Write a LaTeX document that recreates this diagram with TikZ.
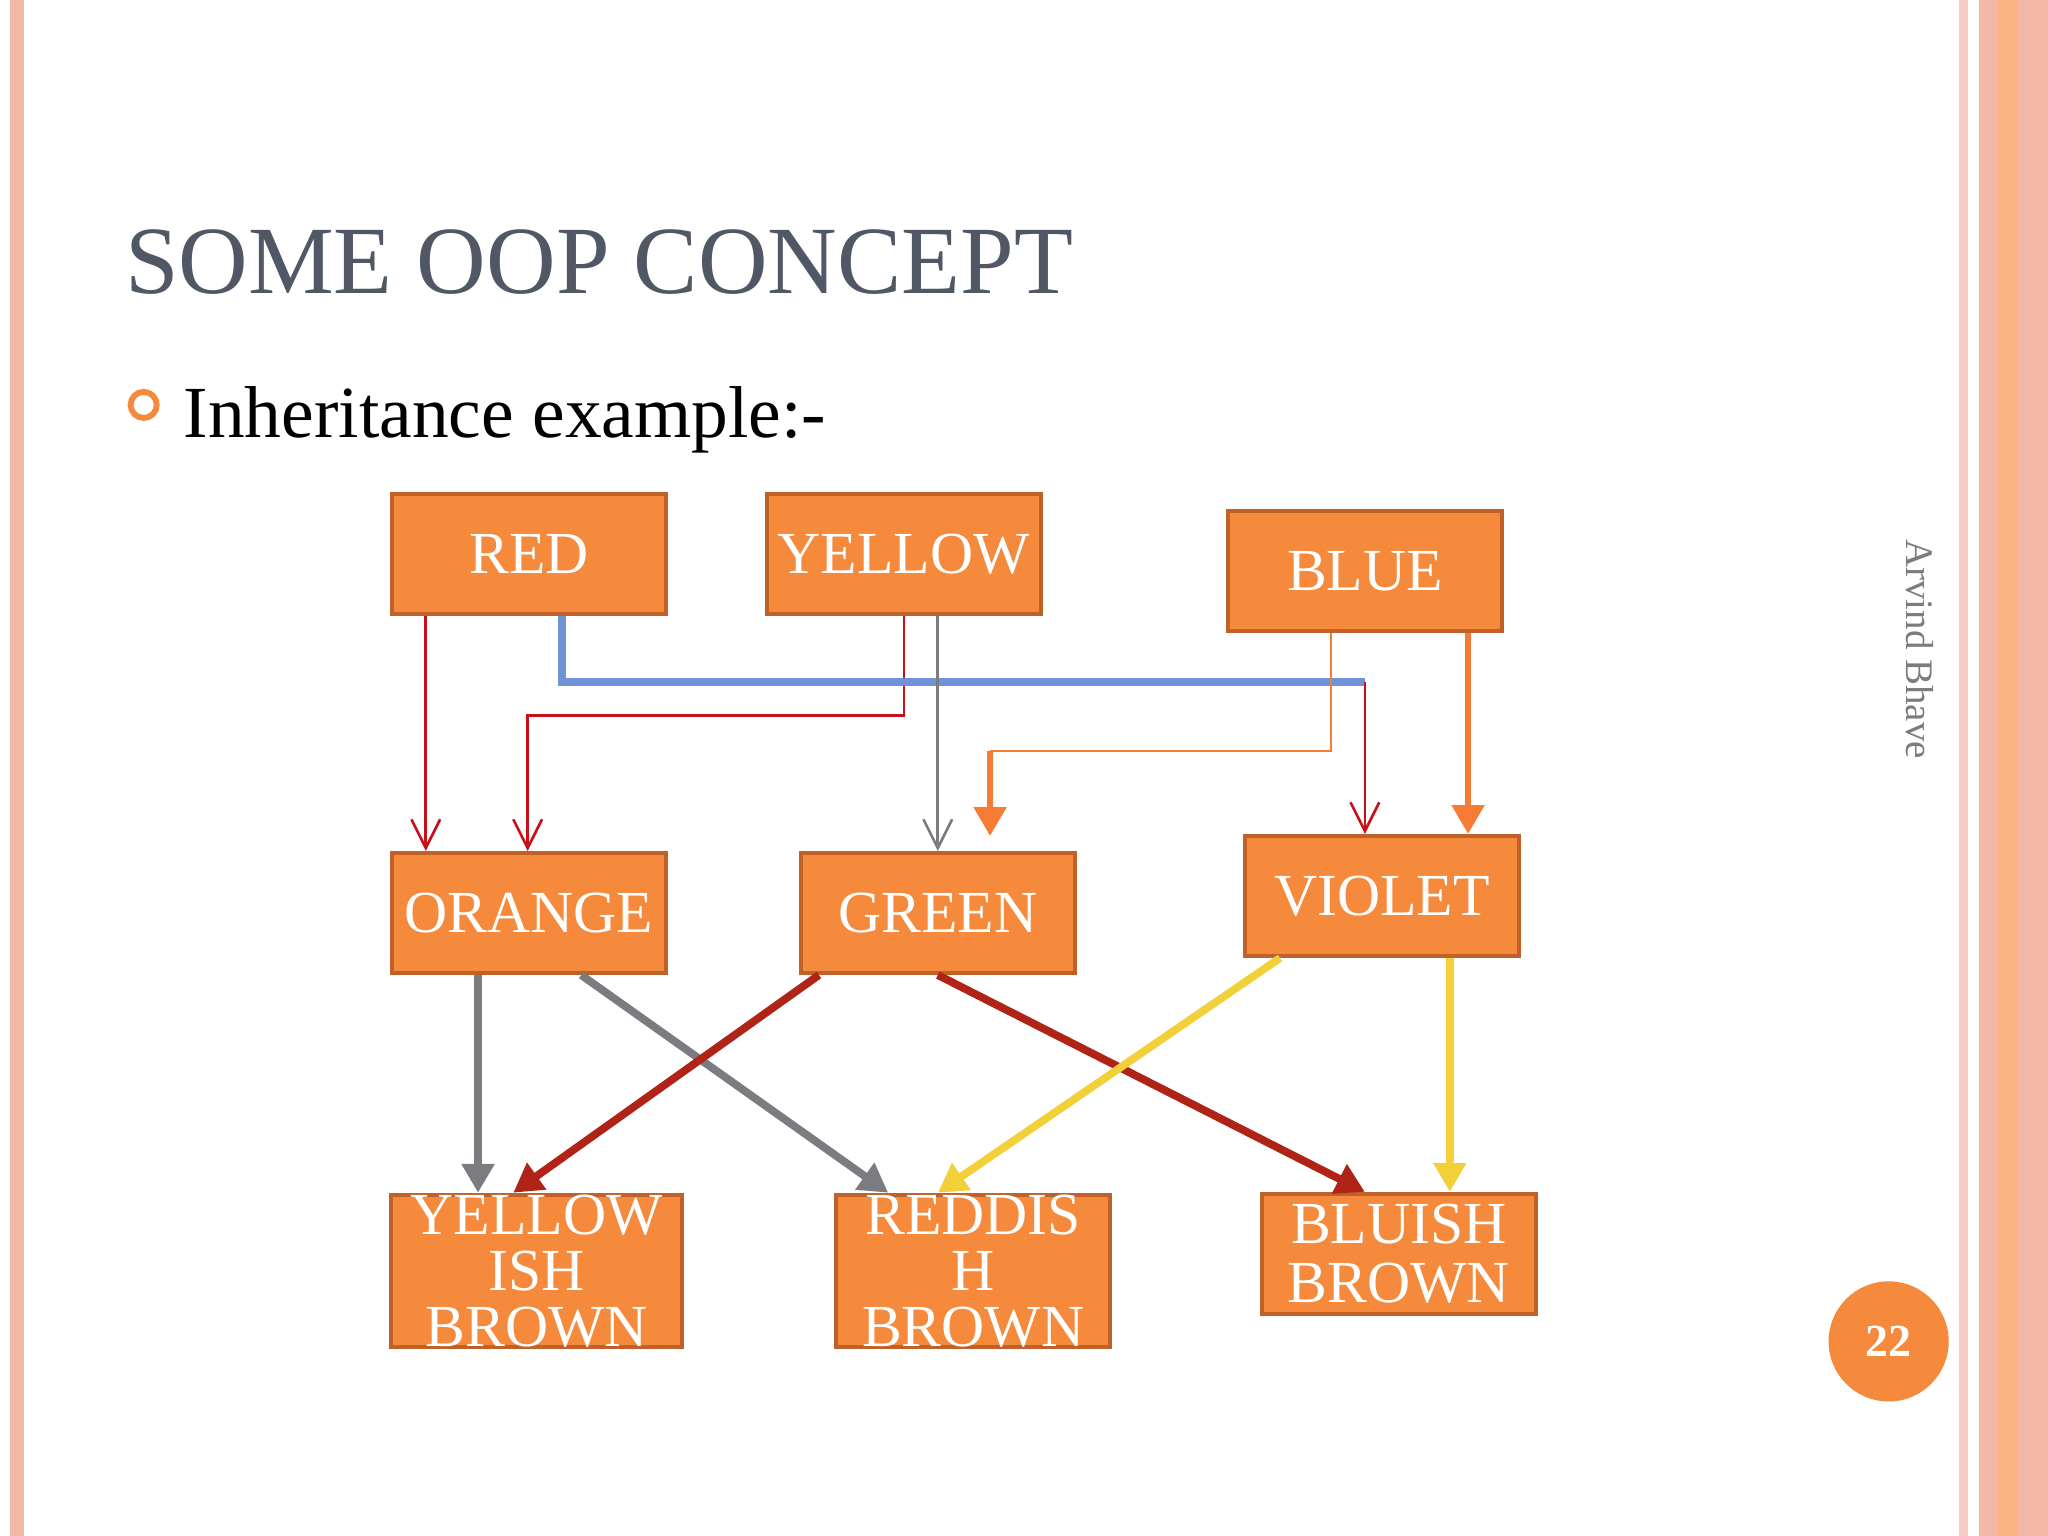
\documentclass[tikz,border=0pt]{standalone}
\usepackage{fontspec}
\setmainfont{Liberation Serif}
\usetikzlibrary{arrows.meta}
\definecolor{boxfill}{HTML}{F58A3C}
\definecolor{boxline}{HTML}{C0612A}
\definecolor{dred}{HTML}{B02418}
\definecolor{lred}{HTML}{C8101A}
\definecolor{gr}{HTML}{7A7C80}
\definecolor{bl}{HTML}{6F93D6}
\definecolor{yl}{HTML}{F2D03A}
\definecolor{pk}{HTML}{F4B8A6}
\definecolor{ttl}{HTML}{505866}
\begin{document}
\begin{tikzpicture}[x=0.1mm,y=-0.1mm,
  cbox/.style={draw=boxline,fill=boxfill,line width=0.3mm,minimum width=21mm,minimum height=9.2mm,inner sep=0pt,text=white,font=\fontsize{13}{15}\selectfont,align=center},
  thin/.style={line width=0.2mm,-{Straight Barb[length=2.2mm,width=2.2mm]}},
  thick/.style={line width=0.6mm,-{Triangle[length=2.2mm,width=2.4mm]}}]
\useasboundingbox (0,0) rectangle (1568,1176);
\fill[white] (0,0) rectangle (1568,1176);
\fill[pk] (8,0) rectangle (18,1176);
\fill[pk!70] (1500,0) rectangle (1507,1176);
\fill[pk] (1515,0) rectangle (1568,1176);
\fill[pk!60!orange!80] (1530,0) rectangle (1545,1176);
\node[anchor=base west,text=ttl,font=\fontsize{21}{24}\selectfont,inner sep=0] (title) at (95,225) {SOME OOP CONCEPT};
\node[draw=boxfill,line width=0.45mm,circle,minimum size=2mm,inner sep=0] (bul) at (110,310) {};
\node[anchor=base west,font=\fontsize{16}{19}\selectfont,inner sep=0] (inh) at (140,335) {Inheritance example:-};
\node[rotate=-90,text=gr,font=\fontsize{8.5}{10}\selectfont] (auth) at (1470,497) {Arvind Bhave};
\node[circle,fill=boxfill,minimum size=9.2mm,text=white,font=\bfseries\fontsize{10}{12}\selectfont] (pg) at (1446,1027) {22};

\node[cbox] (red) at (405,424) {RED};
\node[cbox] (yel) at (692,424) {YELLOW};
\node[cbox] (blue) at (1045,437) {BLUE};
\node[cbox] (ora) at (405,699) {ORANGE};
\node[cbox] (grn) at (718,699) {GREEN};
\node[cbox] (vio) at (1058,686) {VIOLET};
\node[cbox,minimum width=22.3mm,font=\fontsize{13}{12.2}\selectfont] (yb) at (411,973) {YELLOW\\ISH\\BROWN};
\node[cbox,font=\fontsize{13}{12.2}\selectfont] (rb) at (745,973) {REDDIS\\H\\BROWN};
\node[cbox,font=\fontsize{13}{12.8}\selectfont] (bb) at (1071,960) {BLUISH\\BROWN};
\coordinate (j) at (1045,522);

\draw[thin,lred] (326,0 |- red.south) -- (326,0 |- ora.north);
\draw[thin,lred] (692,0 |- yel.south) -- (692,548) -- (404,548) -- (404,0 |- ora.north);
\draw[line width=0.6mm,bl] (430,0 |- red.south) -- (430,522) -- (j);
\draw[thin,lred] (j) -- (1045,0 |- vio.north);
\draw[thin,gr] (718,0 |- yel.south) -- (718,0 |- grn.north);
\draw[line width=0.2mm,boxfill!90!red] (1019,0 |- blue.south) -- (1019,575) -- (758,575);
\draw[thick,boxfill!90!red,line width=0.5mm] (758,575) -- (758,640);
\draw[thick,boxfill!90!red,line width=0.5mm] (1124,0 |- blue.south) -- (1124,0 |- vio.north);
\draw[thick,gr] (366,0 |- ora.south) -- (366,0 |- yb.north);
\draw[thick,gr] (445,0 |- ora.south) -- (680,0 |- rb.north);
\draw[thick,dred] (627,0 |- grn.south) -- (393,0 |- yb.north);
\draw[thick,dred] (718,0 |- grn.south) -- (1045,0 |- bb.north);
\draw[thick,yl] (980,0 |- vio.south) -- (718,0 |- rb.north);
\draw[thick,yl] (1110,0 |- vio.south) -- (1110,0 |- bb.north);
\end{tikzpicture}
\end{document}
